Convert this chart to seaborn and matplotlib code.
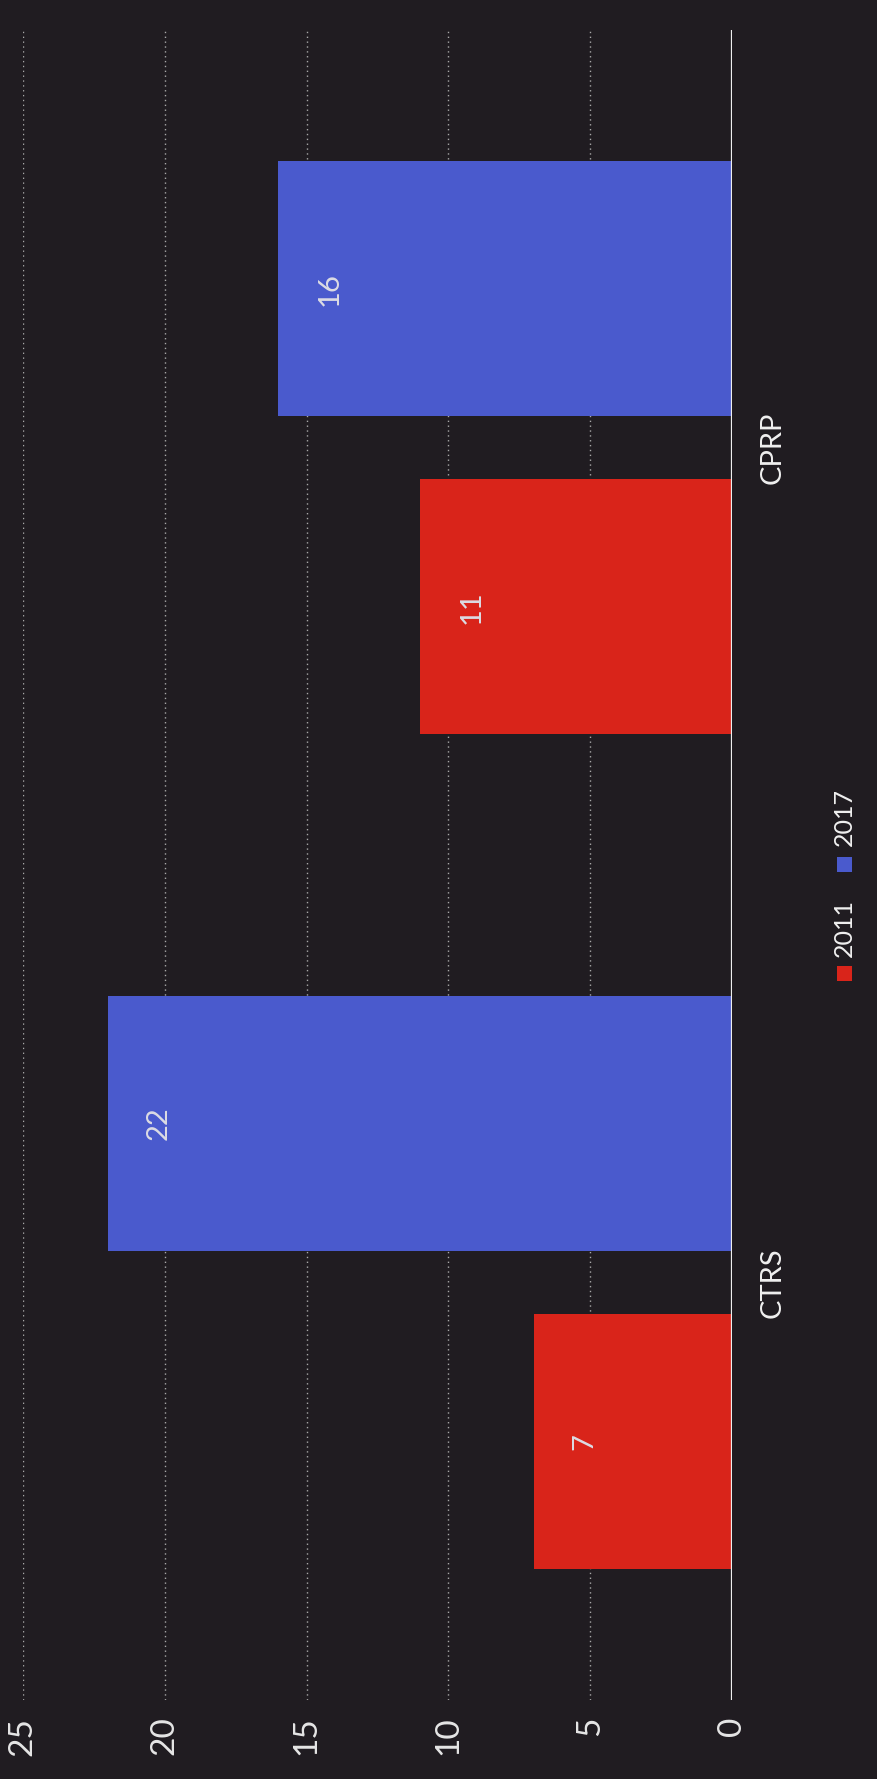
import matplotlib
matplotlib.use('Agg')
import pandas as pd
import matplotlib.pyplot as plt
import seaborn as sns
from matplotlib.patches import Rectangle

categories = ['CTRS', 'CPRP']
years = ['2011', '2017']
counts_2011 = [7, 11]
counts_2017 = [22, 16]
ticks = [0, 5, 10, 15, 20, 25]

df = pd.DataFrame({
    'Category': categories * 2,
    'Year': [years[0]] * len(categories) + [years[1]] * len(categories),
    'Count': counts_2011 + counts_2017,
})

sns.set_style('dark')
plt.rcParams['font.family'] = ['Lato', 'DejaVu Sans']

bg = '#201c21'
palette = {'2011': '#d9241a', '2017': '#4a5acd'}

fig = plt.figure(figsize=(8.78, 17.79), dpi=100, facecolor=bg)
ax = fig.add_axes([0.026, 0.0444, 0.808, 0.9386])
ax.set_facecolor(bg)

sns.barplot(data=df, y='Category', x='Count', hue='Year', order=categories,
            hue_order=years, palette=palette, orient='h', width=0.762, gap=0.197,
            saturation=1, legend=False, linewidth=0, ax=ax)

# chart is drawn turned on its side: values grow to the left
ax.set_xlim(25, 0)
ax.set_ylim(-0.5, 1.5)
ax.set_xticks(ticks)
ax.set_xlabel('')
ax.set_ylabel('')
for s in ax.spines.values():
    s.set_visible(False)

ax.grid(axis='x', color='#a8a8a8', linestyle=(0, (1, 2.5)), linewidth=1)
ax.grid(axis='y', visible=False)
ax.set_axisbelow(True)
ax.axvline(0, color='#eeeeee', linewidth=1.6, zorder=4)

ax.tick_params(axis='x', colors='#e6e6e6', labelsize=24, length=0,
               labelrotation=90, pad=12)
ax.yaxis.tick_right()
ax.tick_params(axis='y', colors='#f0f0f0', labelsize=21, length=0,
               labelrotation=90, pad=20)
for lab in ax.get_yticklabels():
    lab.set_va('center')

# value labels inside the bars near their ends
for cont in ax.containers:
    for bar in cont:
        v = bar.get_width()
        ax.text(v - 1.8, bar.get_y() + bar.get_height() / 2, f'{int(v)}',
                rotation=90, ha='center', va='center', color='#dcdce4',
                fontsize=21, zorder=5)

# legend, rotated like the rest
leg_x = 0.962
leg_items = [('2011', 0.453, 0.4785), ('2017', 0.5143, 0.5405)]
w, h = 15 / 878, 15 / 1779
for year, my, ty in leg_items:
    fig.patches.append(Rectangle((leg_x - w / 2, my - h / 2), w, h,
                                 transform=fig.transFigure, figure=fig,
                                 facecolor=palette[year], edgecolor='none'))
    fig.text(leg_x, ty, year, rotation=90, ha='center', va='center',
             color='#f0f0f0', fontsize=18)

fig.savefig('out.png', dpi=100, facecolor=bg)
